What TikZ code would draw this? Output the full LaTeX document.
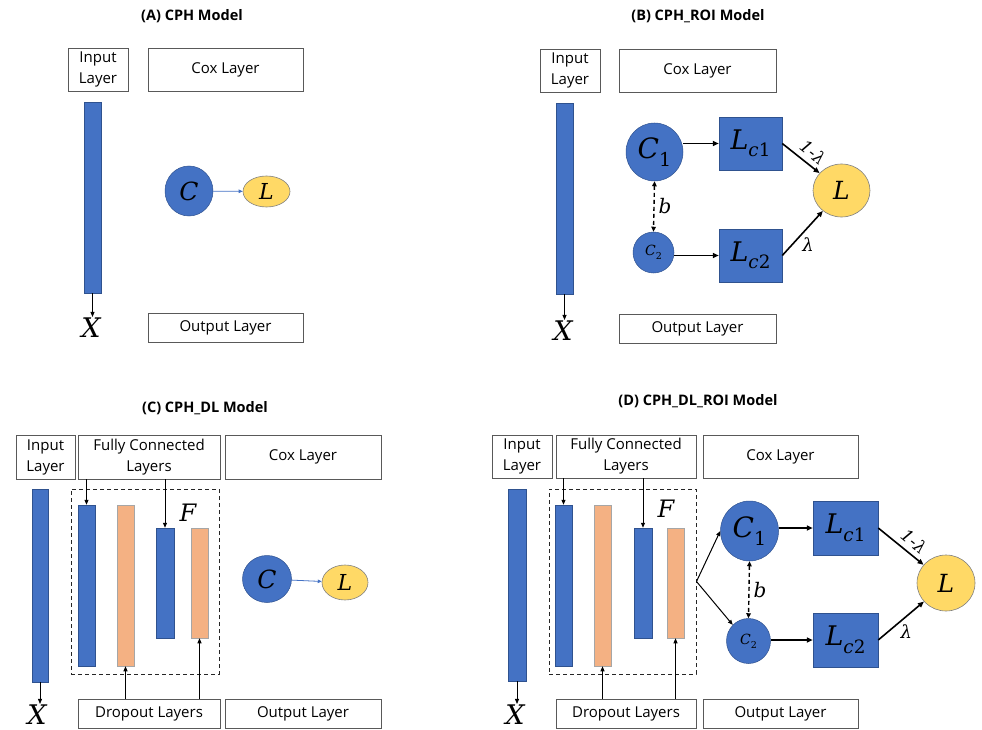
\documentclass[tikz,border=0pt]{standalone}
\usepackage{fontspec}
\usepackage{graphicx}
\setmainfont{Open Sans}
\newfontfamily\mfam{DejaVu Serif}
\newcommand\mv[1]{{\mfam\itshape #1}}
\newcommand\msb[2]{{\mfam\itshape #1\raisebox{-0.28em}{\scalebox{0.68}{#2}}}}
\usetikzlibrary{arrows.meta,shapes.geometric,calc}
\definecolor{cblue}{HTML}{4472C4}
\definecolor{cbord}{HTML}{2F528F}
\definecolor{corange}{HTML}{F4B183}
\definecolor{cyellow}{HTML}{FFD966}
\definecolor{cgray}{HTML}{595959}
\begin{document}
\begin{tikzpicture}[x=1pt,y=-1pt,
  lbox/.style={draw=cgray, line width=0.9pt, fill=white, align=center, inner sep=0pt, font=\fontsize{15}{21}\selectfont},
  ttl/.style={font=\bfseries\fontsize{14.5}{16}\selectfont},
  bar/.style={draw=cbord, fill=cblue, line width=0.5pt, inner sep=0pt},
  drop/.style={draw=gray!70, fill=corange, line width=0.5pt, inner sep=0pt},
  bcirc/.style={ellipse, draw=cbord, fill=cblue, line width=0.5pt, inner sep=0pt},
  ycirc/.style={ellipse, draw=gray, fill=cyellow, line width=0.6pt, inner sep=0pt},
  sqr/.style={rectangle, draw=cbord, fill=cblue, line width=0.5pt, inner sep=0pt},
  dbox/.style={draw=black!85, dashed, dash pattern=on 4pt off 3pt, line width=1pt, inner sep=0pt},
  mX/.style={inner sep=1pt, font=\fontsize{27}{27}\selectfont},
  thinarr/.style={draw=black, line width=0.8pt, -{Triangle[length=5pt,width=4pt]}},
  medarr/.style={draw=black, line width=1.6pt, -{Triangle[length=6pt,width=5pt]}},
  bluearr/.style={draw=cblue, line width=0.8pt, -{Triangle[length=4pt,width=3.5pt]}},
  barr/.style={draw=black, line width=1.4pt, dashed, dash pattern=on 4pt off 3pt, {Triangle[length=5pt,width=4.5pt]}-{Triangle[length=5pt,width=4.5pt]}},
  lamone/.style={sloped, above=4pt, inner sep=1pt, font=\fontsize{17}{17}\selectfont},
  lam/.style={below right, inner sep=1pt, font=\fontsize{18}{18}\selectfont},
  blab/.style={right=4pt, inner sep=0pt, font=\fontsize{20}{20}\selectfont}
]
\useasboundingbox (0,0) rectangle (982,730);

%%%%%%%%%% (A)
\node[ttl] (tA) at (192,16) {(A) CPH Model};
\node[lbox, minimum width=60pt, minimum height=43pt] (inA) at (98,69.5) {Input\\Layer};
\node[lbox, minimum width=155pt, minimum height=43pt] (coxA) at (225.5,69.5) {Cox Layer};
\node[bar, minimum width=17pt, minimum height=191pt] (barA) at (92.5,197.5) {};
\node[mX] (XA) at (91,328) {\mv{X}};
\node[lbox, minimum width=155pt, minimum height=29pt] (outA) at (225.5,327.5) {Output Layer};
\node[bcirc, minimum width=48pt, minimum height=50pt, font=\fontsize{25}{25}\selectfont] (CA) at (189,191) {\mv{C}};
\node[ycirc, minimum width=47pt, minimum height=31pt, font=\fontsize{22}{22}\selectfont] (LA) at (266.5,191.5) {\mv{L}};
\draw[thinarr] (barA.south) -- (barA.south |- XA.north);
\draw[bluearr] (CA) -- (LA);

%%%%%%%%%% (B)
\node[ttl] (tB) at (698,16) {(B) CPH\_ROI Model};
\node[lbox, minimum width=60pt, minimum height=43pt] (inB) at (570,70.5) {Input\\Layer};
\node[lbox, minimum width=157pt, minimum height=43pt] (coxB) at (697.5,70.5) {Cox Layer};
\node[bar, minimum width=17pt, minimum height=191pt] (barB) at (564.5,198.5) {};
\node[mX] (XB) at (563,331) {\mv{X}};
\node[lbox, minimum width=157pt, minimum height=29pt] (outB) at (697.5,328.5) {Output Layer};
\node[bcirc, minimum width=57pt, minimum height=58pt, font=\fontsize{28}{28}\selectfont] (C1B) at (654.5,152) {\msb{C}{\upshape 1}};
\node[bcirc, minimum width=41pt, minimum height=41pt, font=\fontsize{14}{14}\selectfont] (C2B) at (653.5,252.5) {\msb{C}{\upshape 2}};
\node[sqr, minimum width=63pt, minimum height=53pt, font=\fontsize{27}{27}\selectfont] (Lc1B) at (750.5,143.5) {\msb{L}{c\upshape 1}};
\node[sqr, minimum width=63pt, minimum height=53pt, font=\fontsize{27}{27}\selectfont] (Lc2B) at (750.5,255.5) {\msb{L}{c\upshape 2}};
\node[ycirc, minimum width=57pt, minimum height=53pt, font=\fontsize{25}{25}\selectfont] (LB) at (841.5,190.5) {\mv{L}};
\draw[thinarr] (barB.south) -- (barB.south |- XB.north);
\draw[medarr] (C1B.east |- Lc1B.west) -- (Lc1B.west);
\draw[medarr] (C2B.east |- Lc2B.west) -- (Lc2B.west);
\draw[medarr] (Lc1B.east) -- (LB) node[lamone, pos=0.62] {\mv{1-λ}};
\draw[medarr] (Lc2B.east) -- (LB) node[lam, pos=0.45] {\mv{λ}};
\draw[barr] (C1B.south) -- (C2B.north) node[blab, midway] {\mv{b}};

%%%%%%%%%% (C)
\node[ttl] (tC) at (205,408) {(C) CPH\_DL Model};
\node[lbox, minimum width=59pt, minimum height=44pt] (inC) at (45.5,457) {Input\\Layer};
\node[lbox, minimum width=142pt, minimum height=44pt] (fcC) at (149,457) {Fully Connected\\Layers};
\node[lbox, minimum width=156pt, minimum height=44pt] (coxC) at (303,457) {Cox Layer};
\node[bar, minimum width=16pt, minimum height=193pt] (barC) at (40,585.5) {};
\node[mX] (XC) at (37,715) {\mv{X}};
\node[dbox, minimum width=148pt, minimum height=185pt] (dashC) at (145,581.5) {};
\node[bar, minimum width=17pt, minimum height=161pt] (fc1C) at (86.5,585.5) {};
\node[drop, minimum width=17pt, minimum height=161pt] (dr1C) at (125.5,585.5) {};
\node[bar, minimum width=18pt, minimum height=110pt] (fc2C) at (165,583) {};
\node[drop, minimum width=17pt, minimum height=110pt] (dr2C) at (199.5,583) {};
\node[inner sep=0pt, font=\fontsize{24}{24}\selectfont] (FC) at (188,513) {\mv{F}};
\node[lbox, minimum width=142pt, minimum height=29pt] (dropC) at (149,713.5) {Dropout Layers};
\node[lbox, minimum width=156pt, minimum height=29pt] (outC) at (303,713.5) {Output Layer};
\node[bcirc, minimum width=49pt, minimum height=47pt, font=\fontsize{25}{25}\selectfont] (CC) at (267,579) {\mv{C}};
\node[ycirc, minimum width=46pt, minimum height=35pt, font=\fontsize{22}{22}\selectfont] (LC) at (345,582.5) {\mv{L}};
\draw[thinarr] (barC.south) -- (barC.south |- XC.north);
\draw[thinarr] (fcC.south -| fc1C.north) -- (fc1C.north);
\draw[thinarr] (fcC.south -| fc2C.north) -- (fc2C.north);
\draw[thinarr] (dropC.north -| dr1C.south) -- (dr1C.south);
\draw[thinarr] (dropC.north -| dr2C.south) -- (dr2C.south);
\draw[bluearr] (CC) -- (LC);

%%%%%%%%%% (D)
\node[ttl] (tD) at (698,401) {(D) CPH\_DL\_ROI Model};
\node[lbox, minimum width=60pt, minimum height=43pt] (inD) at (522,456.5) {Input\\Layer};
\node[lbox, minimum width=140pt, minimum height=43pt] (fcD) at (626,456.5) {Fully Connected\\Layers};
\node[lbox, minimum width=155pt, minimum height=43pt] (coxD) at (780.5,456.5) {Cox Layer};
\node[bar, minimum width=18pt, minimum height=192pt] (barD) at (517,585) {};
\node[mX] (XD) at (515,715) {\mv{X}};
\node[dbox, minimum width=147pt, minimum height=185pt] (dashD) at (622.5,581.5) {};
\node[bar, minimum width=17pt, minimum height=161pt] (fc1D) at (563.5,585.5) {};
\node[drop, minimum width=17pt, minimum height=161pt] (dr1D) at (602.5,585.5) {};
\node[bar, minimum width=18pt, minimum height=110pt] (fc2D) at (643,583) {};
\node[drop, minimum width=17pt, minimum height=110pt] (dr2D) at (675.5,583) {};
\node[inner sep=0pt, font=\fontsize{24}{24}\selectfont] (FD) at (666,509) {\mv{F}};
\node[lbox, minimum width=140pt, minimum height=29pt] (dropD) at (626,713.5) {Dropout Layers};
\node[lbox, minimum width=155pt, minimum height=29pt] (outD) at (780.5,713.5) {Output Layer};
\node[bcirc, minimum width=58pt, minimum height=60pt, font=\fontsize{28}{28}\selectfont] (C1D) at (749.5,531) {\msb{C}{\upshape 1}};
\node[bcirc, minimum width=44pt, minimum height=45pt, font=\fontsize{14}{14}\selectfont] (C2D) at (748.5,641) {\msb{C}{\upshape 2}};
\node[sqr, minimum width=65pt, minimum height=54pt, font=\fontsize{27}{27}\selectfont] (Lc1D) at (845.5,528) {\msb{L}{c\upshape 1}};
\node[sqr, minimum width=65pt, minimum height=54pt, font=\fontsize{27}{27}\selectfont] (Lc2D) at (845.5,640) {\msb{L}{c\upshape 2}};
\node[ycirc, minimum width=58pt, minimum height=56pt, font=\fontsize{25}{25}\selectfont] (LD) at (946,583) {\mv{L}};
\coordinate (brD) at (dashD.east);
\draw[thinarr] (barD.south) -- (barD.south |- XD.north);
\draw[thinarr] (fcD.south -| fc1D.north) -- (fc1D.north);
\draw[thinarr] (fcD.south -| fc2D.north) -- (fc2D.north);
\draw[thinarr] (dropD.north -| dr1D.south) -- (dr1D.south);
\draw[thinarr] (dropD.north -| dr2D.south) -- (dr2D.south);
\draw[thinarr, line width=1pt] (brD) -- (C1D.west);
\draw[thinarr, line width=1pt] (brD) -- (C2D.north west);
\draw[medarr] (C1D.east |- Lc1D.west) -- (Lc1D.west);
\draw[medarr] (C2D.east |- Lc2D.west) -- (Lc2D.west);
\draw[medarr] (Lc1D.east) -- (LD) node[lamone, pos=0.62] {\mv{1-λ}};
\draw[medarr] (Lc2D.east) -- (LD) node[lam, pos=0.45] {\mv{λ}};
\draw[barr] (C1D.south) -- (C2D.north) node[blab, midway] {\mv{b}};
\end{tikzpicture}
\end{document}
